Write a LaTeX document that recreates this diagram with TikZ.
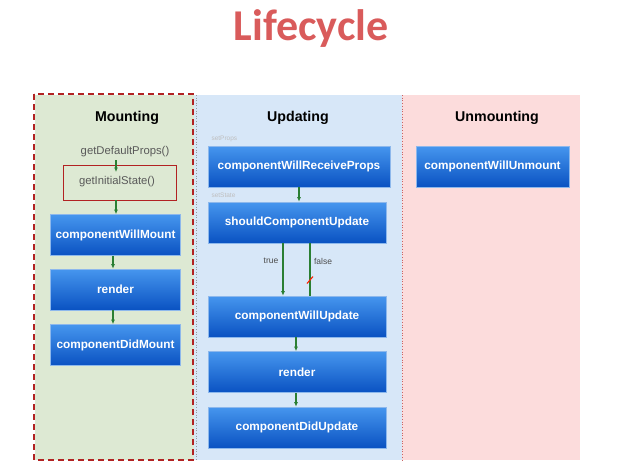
\documentclass[tikz,border=0pt]{standalone}
\usepackage{fontspec}
\setmainfont{Liberation Sans}
\newfontfamily\titlefont{Carlito}
\usetikzlibrary{arrows.meta,calc}
\definecolor{mgreen}{HTML}{DDE9D3}
\definecolor{ublue}{HTML}{D7E7F8}
\definecolor{upink}{HTML}{FCDCDC}
\definecolor{btop}{HTML}{4696EE}
\definecolor{bbot}{HTML}{0A52C2}
\definecolor{bedge}{HTML}{8DB8EC}
\definecolor{arr}{HTML}{2A7F33}
\definecolor{ttl}{HTML}{D95B5B}
\definecolor{dred}{HTML}{B22222}
\tikzset{
  x=1pt, y=-1pt,
  box/.style={draw=bedge, line width=0.6pt, top color=btop, bottom color=bbot, text=white,
    font=\fontsize{11.8}{13}\selectfont\bfseries, minimum height=41pt, inner sep=0pt},
  head/.style={font=\fontsize{14.2}{16}\selectfont\bfseries, text=black},
  fn/.style={font=\fontsize{11.3}{13}\selectfont, text=black!65},
  small/.style={font=\fontsize{6.5}{8}\selectfont, text=black!25, anchor=west},
  lbl/.style={font=\fontsize{8.5}{10}\selectfont, text=black!70},
  flow/.style={draw=arr, line width=1.2pt, -{Latex[length=4.5pt,width=4pt]}},
}
\begin{document}
\begin{tikzpicture}
\useasboundingbox (0,0) rectangle (631,469);
\fill[white] (0,0) rectangle (631,469);
% panels
\fill[mgreen] (35,95) rectangle (194,460);
\fill[ublue] (194,95) rectangle (402,460);
\fill[upink] (402,95) rectangle (580,460);
\draw[black!40, dotted, line width=0.6pt] (196,95) -- (196,460);
\draw[dred!70, dotted, line width=0.7pt] (402,95) -- (402,460);
\draw[dred, line width=1.2pt, dash pattern=on 6pt off 4pt] (34,94) rectangle (193,460);
% title
\node[font=\titlefont\fontsize{44}{48}\selectfont\bfseries, text=ttl] (title) at (311,29) {Lifecycle};
% headers
\node[head] (hm) at (127,118) {Mounting};
\node[head] (hu) at (298,118) {Updating};
\node[head] (hx) at (497,118) {Unmounting};
% mounting
\node[fn] (gdp) at (125,152) {getDefaultProps()};
\node[fn, draw=dred, line width=1pt, minimum width=113pt, minimum height=35pt, inner sep=0pt] (gis) at (119.5,182.5) {};
\node[fn] (gist) at (117,182) {getInitialState()};
\node[box, minimum width=130pt] (cwm) at (115.5,235) {componentWillMount};
\node[box, minimum width=130pt] (rm) at (115.5,289.5) {render};
\node[box, minimum width=130pt] (cdm) at (115.5,345) {componentDidMount};
\coordinate (a1s) at (116,160);
\coordinate (a1e) at (116,172);
\draw[flow] (a1s) -- (a1e);
\coordinate (a2s) at (116,200);
\draw[flow] (a2s) -- (cwm.north -| a2s);
\draw[flow] (cwm.south -| 113,0) -- (rm.north -| 113,0);
\draw[flow] (rm.south -| 113,0) -- (cdm.north -| 113,0);
% updating
\node[small] (sp) at (208,139) {setProps};
\node[box, minimum width=182pt] (cwrp) at (299,166.5) {componentWillReceiveProps};
\node[small] (ss) at (208,195) {setState};
\node[box, minimum width=178pt] (scu) at (297,222.5) {shouldComponentUpdate};
\node[box, minimum width=178pt] (cwu) at (297,316.5) {componentWillUpdate};
\node[box, minimum width=178pt] (ru) at (297,372) {render};
\node[box, minimum width=178pt] (cdu) at (297,427.5) {componentDidUpdate};
\draw[flow] (cwrp.south -| 299,0) -- (scu.north -| 299,0);
\draw[flow] (scu.south -| 283,0) -- (cwu.north -| 283,0);
\draw[draw=arr, line width=1.2pt] (scu.south -| 310,0) -- (cwu.north -| 310,0);
\coordinate (cut) at (310,280);
\draw[red!75!orange, line width=1.1pt] ($(cut)+(-3,3.5)$) -- ($(cut)+(3,-3.5)$);
\node[lbl] (tl) at (271,261) {true};
\node[lbl] (fl) at (323,261) {false};
\draw[flow] (cwu.south -| 296,0) -- (ru.north -| 296,0);
\draw[flow] (ru.south -| 296,0) -- (cdu.north -| 296,0);
% unmounting
\node[box, minimum width=153pt] (cwun) at (492.5,166.5) {componentWillUnmount};
\end{tikzpicture}
\end{document}
